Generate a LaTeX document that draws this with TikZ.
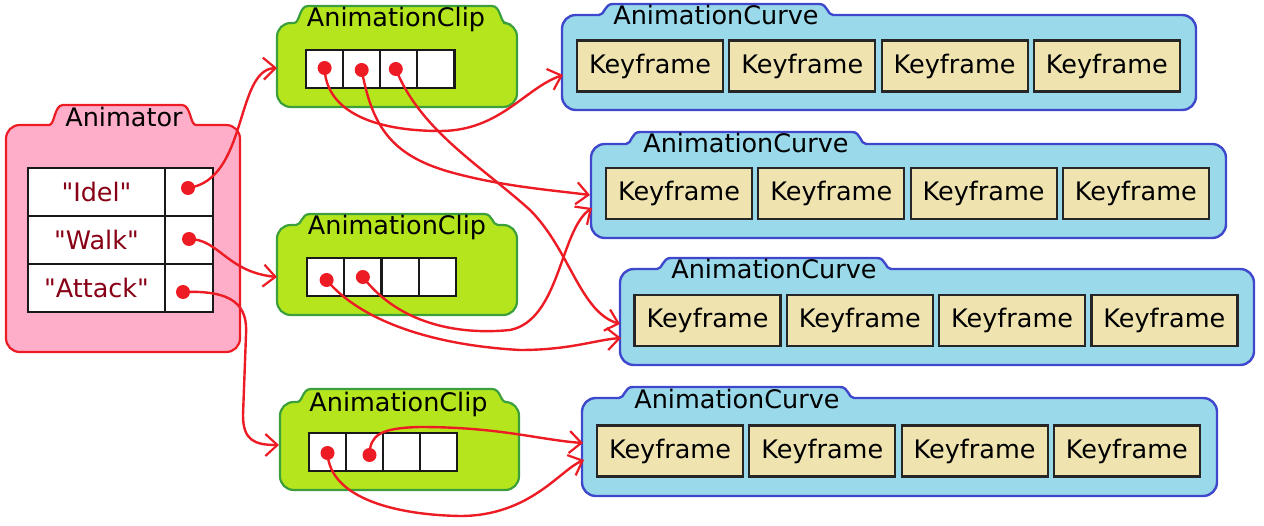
\documentclass[tikz,border=0pt]{standalone}
\usepackage{fontspec}
\setmainfont{DejaVu Sans}
\usetikzlibrary{arrows.meta}
\definecolor{pinkf}{HTML}{FFAEC9}
\definecolor{redl}{HTML}{ED1C24}
\definecolor{limef}{HTML}{B5E61D}
\definecolor{greenl}{HTML}{3BA03B}
\definecolor{bluef}{HTML}{99D9EA}
\definecolor{bluel}{HTML}{3F48CC}
\definecolor{keyf}{HTML}{EFE4B0}
\definecolor{darkred}{HTML}{880015}
\newcommand\qq{\XeTeXglyph\numexpr\XeTeXcharglyph"22\relax}
% #1 left, #2 top, #3 right, #4 bottom, #5 tab left, #6 tab right, #7 tab top
\newcommand\tabpath[7]{%
  (#1,#2+14) .. controls (#1,#2+6) and (#1+6,#2) .. (#1+14,#2)
  -- (#5-6,#2) .. controls (#5,#2) and (#5-1,#7) .. (#5+8,#7)
  -- (#6-8,#7) .. controls (#6+1,#7) and (#6,#2) .. (#6+6,#2)
  -- (#3-14,#2) .. controls (#3-6,#2) and (#3,#2+6) .. (#3,#2+14)
  -- (#3,#4-14) .. controls (#3,#4-6) and (#3-6,#4) .. (#3-14,#4)
  -- (#1+14,#4) .. controls (#1+6,#4) and (#1,#4-6) .. (#1,#4-14) -- cycle}
\begin{document}
\begin{tikzpicture}[x=1pt,y=-1pt,
  font=\fontsize{25.5}{30}\selectfont,
  animbox/.style={fill=pinkf,draw=redl,line width=2.2pt},
  clipbox/.style={fill=limef,draw=greenl,line width=2.2pt},
  curvebox/.style={fill=bluef,draw=bluel,line width=2.4pt},
  tablabel/.style={anchor=base,inner sep=0pt,text=black},
  keyframe/.style={draw=black!85,fill=keyf,line width=2.2pt,minimum width=146pt,minimum height=51pt,inner sep=0pt},
  cell/.style={draw=black!90,fill=white,line width=2.2pt,minimum width=37.2pt,minimum height=38pt,inner sep=0pt},
  tcell/.style={draw=black!90,fill=white,line width=2.2pt,minimum height=48pt,inner sep=0pt,text=darkred},
  link/.style={draw=redl,line width=2.4pt,-{Straight Barb[length=12pt,width=22pt,line width=2.2pt]}},
  dot/.style={fill=redl}]
\useasboundingbox (0,0) rectangle (1264,526);

% ---------- Animator ----------
\draw[animbox] \tabpath{6}{125}{240}{352}{55}{190}{105};
\node[tablabel] (animlabel) at (124,127) {Animator};
\node[tcell,minimum width=137pt] (t1l) at (96.5,192) {\qq Idel\qq};
\node[tcell,minimum width=137pt] (t2l) at (96.5,240) {\qq Walk\qq};
\node[tcell,minimum width=137pt] (t3l) at (96.5,288) {\qq Attack\qq};
\node[tcell,minimum width=48pt] (t1r) at (189,192) {};
\node[tcell,minimum width=48pt] (t2r) at (189,240) {};
\node[tcell,minimum width=48pt] (t3r) at (189,288) {};

% ---------- AnimationClips ----------
\draw[clipbox] \tabpath{277}{23}{517}{107}{300}{500}{6};
\node[tablabel] (clip1label) at (396,27) {AnimationClip};
\foreach \i in {1,...,4} \node[cell] (c1k\i) at ({324.6+37.1*(\i-1)},69) {};

\draw[clipbox] \tabpath{277}{225}{517}{315}{302}{492}{214};
\node[tablabel] (clip2label) at (397,235) {AnimationClip};
\foreach \i in {1,...,4} \node[cell] (c2k\i) at ({325.6+37.25*(\i-1)},277) {};

\draw[clipbox] \tabpath{280}{402}{519}{490}{303}{500}{389};
\node[tablabel] (clip3label) at (398.5,412) {AnimationClip};
\foreach \i in {1,...,4} \node[cell] (c3k\i) at ({327.5+37*(\i-1)},452) {};

% ---------- AnimationCurves ----------
\draw[curvebox] \tabpath{562}{15}{1196}{110}{605}{827}{4};
\node[tablabel] (cv1label) at (716,25) {AnimationCurve};
\foreach \i in {0,...,3} \node[keyframe] (cv1k\i) at ({650+152.3*\i},66) {Keyframe};

\draw[curvebox] \tabpath{591}{144}{1226}{238}{632}{860}{132};
\node[tablabel] (cv2label) at (746,153) {AnimationCurve};
\foreach \i in {0,...,3} \node[keyframe] (cv2k\i) at ({679+152.3*\i},193.5) {Keyframe};

\draw[curvebox] \tabpath{620}{269}{1254}{365}{663}{885}{258};
\node[tablabel] (cv3label) at (774,279) {AnimationCurve};
\foreach \i in {0,...,3} \node[keyframe] (cv3k\i) at ({707.5+152.3*\i},320.5) {Keyframe};

\draw[curvebox] \tabpath{582}{398}{1217}{496}{625}{848}{387};
\node[tablabel] (cv4label) at (737,409) {AnimationCurve};
\foreach \i in {0,...,3} \node[keyframe] (cv4k\i) at ({670+152.3*\i},451) {Keyframe};

% ---------- connector end points ----------
\coordinate (clip1in) at (277,68);
\coordinate (clip2in) at (277,277);
\coordinate (clip3in) at (279,445);
\coordinate (cv1in) at (563,75);
\coordinate (cv2inA) at (590,195);
\coordinate (cv2inB) at (592,208);
\coordinate (cv3inA) at (620,324);
\coordinate (cv3inB) at (621,338);
\coordinate (cv4inA) at (583,443);
\coordinate (cv4inB) at (584,460);

\coordinate (d1) at ([shift={(-1,-4)}]t1r.center);
\coordinate (d2) at ([shift={(0,-1)}]t2r.center);
\coordinate (d3) at ([shift={(-6,4)}]t3r.center);
\coordinate (e11) at ([shift={(0,-1)}]c1k1.center);
\coordinate (e12) at ([shift={(0,1)}]c1k2.center);
\coordinate (e13) at ([shift={(-3,0)}]c1k3.center);
\coordinate (e21) at ([shift={(1,3)}]c2k1.center);
\coordinate (e22) at (c2k2.center);
\coordinate (e31) at ([shift={(0,1)}]c3k1.center);
\coordinate (e32) at ([shift={(5,3)}]c3k2.center);

% ---------- connectors ----------
\draw[link] (d1) .. controls +(60,-8) and +(-42,2) .. (clip1in);
\draw[link] (d2) .. controls +(30,0) and +(-50,-5) .. (clip2in);
\draw[link] (d3) .. controls +(50,-2) and +(2,-30) .. (246,335) -- (243,415)
  .. controls +(0,25) and +(-25,0) .. (clip3in);

\draw[link] (e11) .. controls (326,112) and (375,131) .. (440,131)
  .. controls (500,131) and (525,88) .. (cv1in);
\draw[link] (e12) .. controls (372,125) and (390,155) .. (450,172)
  .. controls (500,186) and (550,190) .. (cv2inA);
\draw[link] (e13) .. controls (420,130) and (480,165) .. (530,210)
  .. controls (570,250) and (580,312) .. (cv3inA);
\draw[link] (e21) .. controls (360,320) and (430,345) .. (520,350)
  .. controls (570,350) and (595,340) .. (cv3inB);
\draw[link] (e22) .. controls (400,325) and (460,335) .. (510,330)
  .. controls (560,320) and (560,230) .. (cv2inB);
\draw[link] (e32) .. controls (370,435) and (380,428) .. (420,427)
  .. controls (500,427) and (540,440) .. (cv4inA);
\draw[link] (e31) .. controls (330,500) and (400,515) .. (460,516)
  .. controls (530,516) and (560,470) .. (cv4inB);

% ---------- dots ----------
\foreach \d in {d1,d2,d3,e11,e12,e13,e21,e22,e31,e32}
  \fill[dot] (\d) circle[radius=7pt];
\end{tikzpicture}
\end{document}
